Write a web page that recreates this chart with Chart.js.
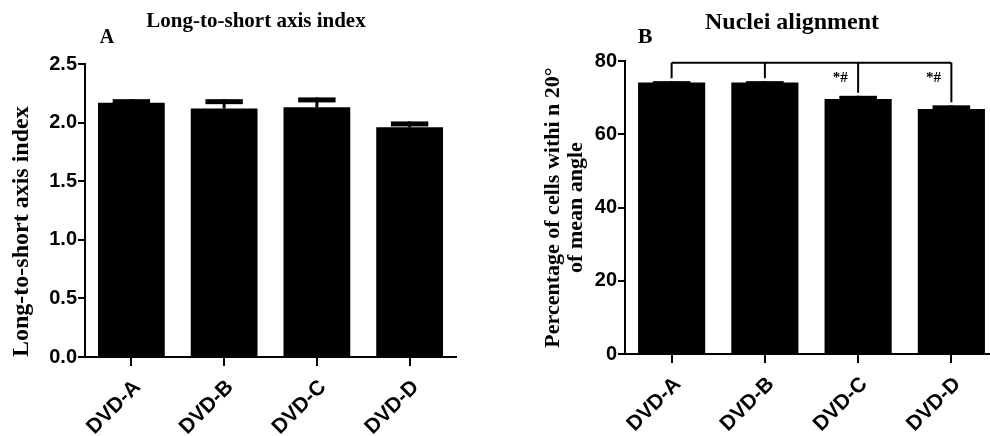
<!DOCTYPE html>
<html>
<head>
<meta charset="utf-8">
<script src="https://cdn.jsdelivr.net/npm/chart.js@4.4.1/dist/chart.umd.min.js"></script>
<style>
  html, body { margin: 0; padding: 0; background: #fff; overflow: hidden; width: 990px; height: 436px; }
  #wrapA { position: absolute; left: 0; top: 0; width: 495px; height: 436px; }
  #wrapB { position: absolute; left: 495px; top: 0; width: 515px; height: 436px; }
</style>
</head>
<body>
<div id="wrapA"><canvas id="chartA" width="495" height="436"></canvas></div>
<div id="wrapB"><canvas id="chartB" width="515" height="436"></canvas></div>
<script>
const groups = ["DVD-A", "DVD-B", "DVD-C", "DVD-D"];

// panel A: long-to-short axis index (mean, SEM)
const axisIndexMean = [2.17, 2.12, 2.13, 1.96];
const axisIndexErr = [0.03, 0.08, 0.085, 0.05];
const axisIndexTicks = [0, 0.5, 1.0, 1.5, 2.0, 2.5];

// panel B: nuclei alignment, % of cells within 20° of mean angle
const alignMean = [74.1, 74.1, 69.6, 66.9];
const alignErr = [0.4, 0.4, 0.9, 1.0];
const alignTicks = [0, 20, 40, 60, 80];
const alignMarks = ["", "", "*#", "*#"];
const bracketLevel = 79.5;
const markLevel = 75.2;

const sansBold = { family: "'Liberation Sans', Arial, sans-serif", weight: "bold" };
const serifBold = { family: "'Liberation Serif', 'Times New Roman', serif", weight: "bold" };

// error bars drawn from the mean/err arrays through the y scale
const errorBars = {
  id: "errorBars",
  afterDatasetsDraw(chart, args, opts) {
    const { ctx } = chart;
    const y = chart.scales.y;
    const meta = chart.getDatasetMeta(0);
    ctx.save();
    ctx.fillStyle = "#000";
    meta.data.forEach((bar, i) => {
      const top = y.getPixelForValue(opts.mean[i] + opts.err[i]);
      const capW = bar.width * 0.56;
      ctx.fillRect(bar.x - capW / 2, top, capW, 5);
      ctx.fillRect(bar.x - 1.5, top, 3, bar.y - top);
    });
    ctx.restore();
  }
};

// panel title and letter
const panelText = {
  id: "panelText",
  afterDraw(chart, args, opts) {
    const { ctx } = chart;
    ctx.save();
    ctx.fillStyle = "#000";
    ctx.textAlign = "center";
    ctx.textBaseline = "middle";
    ctx.font = opts.titleFont;
    ctx.fillText(opts.title, opts.titleX, opts.titleY);
    ctx.font = opts.letterFont;
    ctx.fillText(opts.letter, opts.letterX, opts.letterY);
    ctx.restore();
  }
};

// significance bracket for panel B
const bracket = {
  id: "bracket",
  afterDatasetsDraw(chart, args, opts) {
    if (!opts.show) return;
    const { ctx } = chart;
    const y = chart.scales.y;
    const meta = chart.getDatasetMeta(0);
    const lineY = y.getPixelForValue(opts.level);
    const bars = meta.data;
    ctx.save();
    ctx.strokeStyle = "#000";
    ctx.lineWidth = 2;
    ctx.beginPath();
    ctx.moveTo(bars[0].x, lineY);
    ctx.lineTo(bars[bars.length - 1].x, lineY);
    bars.forEach((bar, i) => {
      const end = y.getPixelForValue(opts.mean[i] + opts.err[i]) - 3;
      ctx.moveTo(bar.x, lineY);
      ctx.lineTo(bar.x, end);
    });
    ctx.stroke();
    ctx.fillStyle = "#000";
    ctx.textAlign = "center";
    ctx.textBaseline = "middle";
    ctx.font = "bold 15px 'Liberation Serif', serif";
    const markY = y.getPixelForValue(opts.markLevel);
    bars.forEach((bar, i) => {
      if (opts.marks[i]) ctx.fillText(opts.marks[i], bar.x - 18, markY);
    });
    ctx.restore();
  }
};

function makeChart(id, cfg) {
  return new Chart(document.getElementById(id), {
    type: "bar",
    data: {
      labels: groups,
      datasets: [{
        data: cfg.mean,
        backgroundColor: "#000",
        borderWidth: 0,
        barPercentage: 0.72,
        categoryPercentage: 1.0
      }]
    },
    options: {
      responsive: false,
      animation: false,
      devicePixelRatio: 1,
      layout: { padding: cfg.padding },
      plugins: {
        legend: { display: false },
        tooltip: { enabled: false },
        errorBars: { mean: cfg.mean, err: cfg.err },
        panelText: cfg.text,
        bracket: cfg.bracket || { show: false }
      },
      scales: {
        x: {
          offset: true,
          afterFit: s => { s.height = cfg.xHeight; },
          border: { display: true, color: "#000", width: 2 },
          grid: { display: true, drawOnChartArea: false, offset: false, drawTicks: true, tickLength: 9, color: "#000", lineWidth: 2 },
          ticks: { color: "#000", font: { ...sansBold, size: 21 }, maxRotation: 45, minRotation: 45, padding: 9, labelOffset: 6 }
        },
        y: {
          min: cfg.ticks[0],
          max: cfg.ticks[cfg.ticks.length - 1],
          afterFit: s => { s.width = cfg.yWidth; },
          afterBuildTicks: s => { s.ticks = cfg.ticks.map(v => ({ value: v })); },
          border: { display: true, color: "#000", width: 2 },
          grid: { display: true, drawOnChartArea: false, drawTicks: true, tickLength: 7, color: "#000", lineWidth: 2 },
          ticks: { color: "#000", font: { ...sansBold, size: 20 }, padding: 1, callback: cfg.fmt },
          title: {
            display: true,
            text: cfg.yTitle,
            align: cfg.titleAlign,
            color: "#000",
            font: { ...serifBold, size: cfg.titleSize, lineHeight: cfg.titleLine },
            padding: { top: cfg.titlePad, bottom: 0 }
          }
        }
      }
    },
    plugins: [errorBars, bracket, panelText]
  });
}

makeChart("chartA", {
  mean: axisIndexMean,
  err: axisIndexErr,
  ticks: axisIndexTicks,
  fmt: v => Number(v).toFixed(1),
  padding: { top: 64, right: 39, left: 0, bottom: 0 },
  xHeight: 79,
  yWidth: 85,
  yTitle: "Long-to-short axis index",
  titleAlign: "start",
  titleSize: 24,
  titleLine: 1,
  titlePad: 10,
  text: {
    title: "Long-to-short axis index", titleFont: "bold 21px 'Liberation Serif', serif", titleX: 256, titleY: 22,
    letter: "A", letterFont: "bold 20px 'Liberation Serif', serif", letterX: 107, letterY: 38
  }
});

makeChart("chartB", {
  mean: alignMean,
  err: alignErr,
  ticks: alignTicks,
  fmt: v => String(v),
  padding: { top: 61, right: 12, left: 0, bottom: 0 },
  xHeight: 82,
  yWidth: 130,
  yTitle: ["Percentage of cells withi n 20°", "of mean angle"],
  titleAlign: "center",
  titleSize: 22,
  titleLine: 1.05,
  titlePad: 47,
  text: {
    title: "Nuclei alignment", titleFont: "bold 24px 'Liberation Serif', serif", titleX: 297, titleY: 23,
    letter: "B", letterFont: "bold 22px 'Liberation Serif', serif", letterX: 150, letterY: 37
  },
  bracket: { show: true, level: bracketLevel, mean: alignMean, err: alignErr, marks: alignMarks, markLevel: markLevel }
});
</script>
</body>
</html>
